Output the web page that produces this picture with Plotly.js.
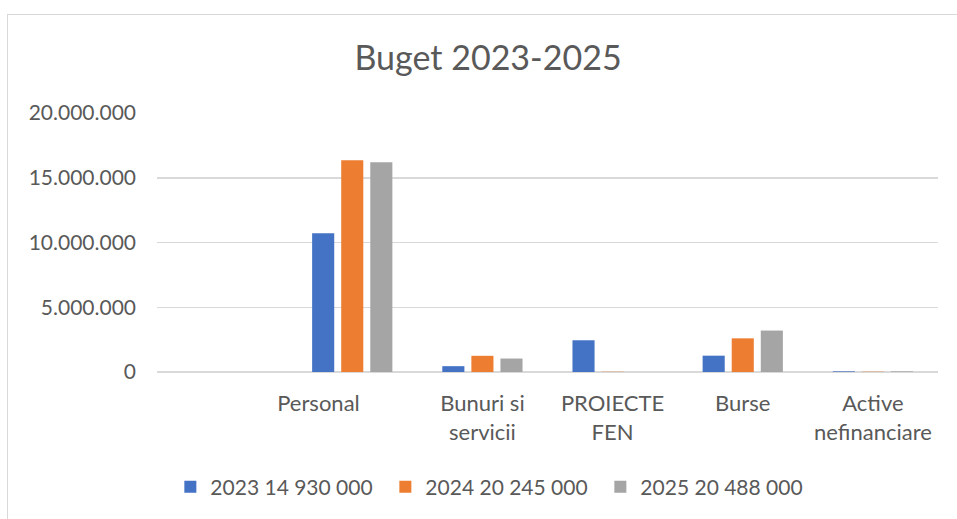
<!DOCTYPE html>
<html>
<head>
<meta charset="utf-8">
<script src="https://cdn.plot.ly/plotly-3.0.1.min.js"></script>
<style>
  html, body { margin: 0; padding: 0; background: #fff; overflow: hidden; }
  #frame { position: absolute; left: 7px; top: 14px; width: 1000px; height: 600px;
           border-left: 1px solid #d9d9d9; border-top: 1px solid #d9d9d9; }
  #chart { position: absolute; left: 0; top: 0; width: 957px; height: 519px; }
</style>
</head>
<body>
<div id="frame"></div>
<div id="chart"></div>
<script>
// categories (first one is blank in the original sheet)
const NBSP = '\u00A0';
const categories = ['', 'Personal' + NBSP.repeat(12), 'Bunuri si<br>servicii', 'PROIECTE<br>FEN', 'Burse', 'Active<br>nefinanciare'];

// values (lei)
const y2023 = [0, 10720000, 450000, 2450000, 1260000, 50000];
const y2024 = [0, 16350000, 1250000, 20000, 2600000, 25000];
const y2025 = [0, 16200000, 1040000, 0, 3200000, 48000];

const seriesNames = ['2023 14 930 000', '2024 20 245 000', '2025 20 488 000'];
const seriesColors = ['#4472C4', '#ED7D31', '#A5A5A5'];

const yTicks = [0, 5000000, 10000000, 15000000, 20000000];
const yTickText = ['0', '5.000.000', '10.000.000', '15.000.000', '20.000.000'];

const FONT = 'Lato, "Open Sans", sans-serif';
const TXT = '#595959';

const xIdx = categories.map((_, i) => i);

const traces = [y2023, y2024, y2025].map((vals, i) => ({
    type: 'bar',
    x: xIdx,
    y: vals,
    name: seriesNames[i],
    marker: { color: seriesColors[i] },
    hoverinfo: 'skip'
}));

const layout = {
    width: 957,
    height: 519,
    paper_bgcolor: 'rgba(0,0,0,0)',
    plot_bgcolor: 'rgba(0,0,0,0)',
    margin: { l: 157, r: 19, t: 113, b: 147 },
    barmode: 'group',
    bargap: 0.33,
    bargroupgap: 0.24,
    font: { family: FONT, color: TXT, size: 21 },
    title: {
        text: 'Buget 2023-2025',
        font: { family: FONT, size: 34, color: TXT },
        xref: 'container', x: 0.51, xanchor: 'center',
        yref: 'container', y: 1 - 58 / 519, yanchor: 'middle'
    },
    xaxis: {
        tickmode: 'array',
        tickvals: xIdx,
        ticktext: categories,
        range: [-0.5, categories.length - 0.5],
        showgrid: false,
        zeroline: false,
        showline: false,
        ticks: '',
        ticklabelstandoff: 16,
        tickfont: { family: FONT, size: 22, color: TXT },
        fixedrange: true
    },
    yaxis: {
        range: [0, 20000000],
        tickmode: 'array',
        tickvals: yTicks,
        ticktext: yTickText,
        showgrid: true,
        gridcolor: '#d9d9d9',
        gridwidth: 1.5,
        zeroline: true,
        zerolinecolor: '#d9d9d9',
        zerolinewidth: 1.5,
        showline: false,
        ticks: '',
        ticklabelstandoff: 20,
        tickfont: { family: FONT, size: 21, color: TXT },
        fixedrange: true
    },
    showlegend: true,
    legend: {
        orientation: 'h',
        xref: 'container', x: 0.515, xanchor: 'center',
        yref: 'container', y: 1 - 487 / 519, yanchor: 'middle',
        font: { family: FONT, size: 21, color: TXT },
        entrywidth: 170,
        entrywidthmode: 'pixels',
        itemclick: false,
        itemdoubleclick: false
    }
};

Plotly.newPlot('chart', traces, layout, { displayModeBar: false, staticPlot: true });
</script>
</body>
</html>
